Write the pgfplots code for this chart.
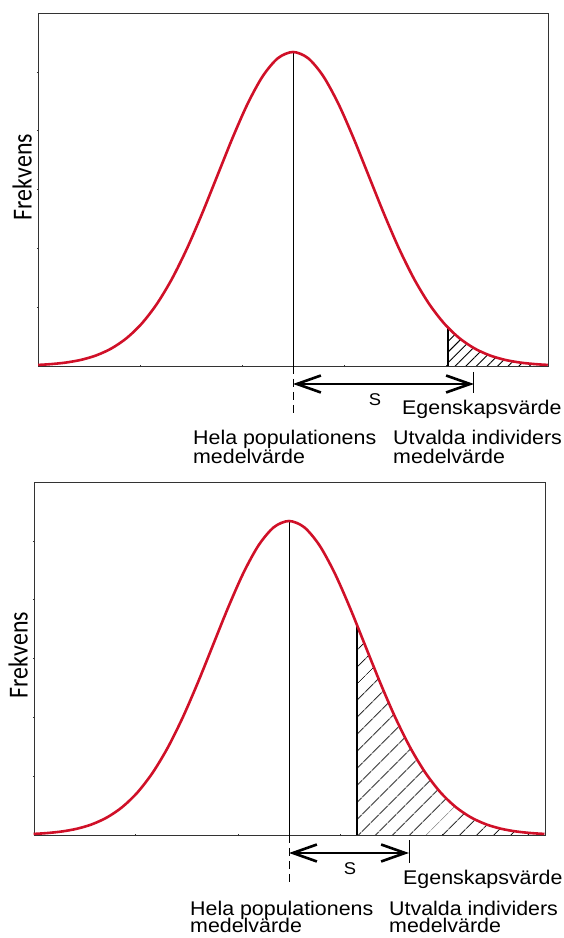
\documentclass[border=0pt]{standalone}
\usepackage{pgfplots}
\pgfplotsset{compat=1.18}
\usepackage{pgfplotstable}
\usepackage{fontspec}
\setmainfont{Liberation Sans}[FakeStretch=1.08]
\newfontfamily\frek{Carlito}[FakeStretch=0.87]
\usetikzlibrary{arrows.meta,patterns.meta}
\definecolor{curvered}{RGB}{208,16,40}
\newcommand\lab{\fontsize{19.8}{19.8}\selectfont}
\newcommand\frekfont{\frek\fontsize{27.5}{27.5}\selectfont}

\pgfplotstableread{
z f
-3.37 0.0034
-3.2 0.0060
-3.0 0.0111
-2.8 0.0198
-2.6 0.0340
-2.4 0.0561
-2.2 0.0889
-2.0 0.1353
-1.8 0.1979
-1.6 0.2780
-1.4 0.3753
-1.2 0.4868
-1.0 0.6065
-0.8 0.7261
-0.6 0.8353
-0.4 0.9231
-0.2 0.9802
0.0 1.0000
0.2 0.9802
0.4 0.9231
0.6 0.8353
0.8 0.7261
1.0 0.6065
1.2 0.4868
1.4 0.3753
1.6 0.2780
1.8 0.1979
2.0 0.1353
2.2 0.0889
2.4 0.0561
2.6 0.0340
2.8 0.0198
3.0 0.0111
3.2 0.0060
3.37 0.0034
}\curve

\pgfplotsset{panel/.style={
  scale only axis, height=353pt,
  ymin=0, ymax=1.1242,
  axis line style={black!80,line width=0.8pt},
  xtick={-2.024,-0.675,0.675,2.024},
  ytick={0.1874,0.3747,0.5621,0.7495,0.9368},
  xticklabels={}, yticklabels={},
  xtick pos=bottom, ytick pos=left,
  tick align=center, major tick length=2.5pt,
  tick style={black!80,line width=0.5pt},
  clip=false,
}}
\tikzset{sarrow/.style={line width=2.6pt, {Straight Barb[length=24pt,width=17pt]}-{Straight Barb[length=24pt,width=17pt]}}}

\begin{document}
\begin{tikzpicture}[x=1pt,y=1pt]
\useasboundingbox (0,0) rectangle (563,938);

% ---------- top panel ----------
\begin{axis}[panel, width=510pt, at={(38pt,572pt)}, anchor=south west,
  xmin=-3.373, xmax=3.373]
\addplot[draw=none, pattern={Lines[angle=45,distance=7.5pt,line width=0.9pt]}, smooth]
  coordinates {(2.05,0.1223) (2.2,0.0889) (2.4,0.0561) (2.6,0.0340) (2.8,0.0198) (3.0,0.0111) (3.2,0.0060) (3.37,0.0034)} \closedcycle;
\addplot[black, line width=1pt] coordinates {(0,0) (0,1)};
\addplot[black, line width=2.4pt] coordinates {(2.05,0) (2.05,0.1223)};
\addplot[black, line width=1pt, dash pattern=on 8pt off 5pt] coordinates {(0,0) (0,-0.1624)};
\addplot[black, line width=1pt] coordinates {(2.394,-0.0191) (2.394,-0.086)};
\addplot[curvered, line width=2.6pt, smooth] table[x=z,y=f] {\curve};
\draw[sarrow] (axis cs:0,-0.0573) -- (axis cs:2.394,-0.0573);
\node[font=\frekfont, rotate=90, anchor=center, inner sep=0] at (axis description cs:-0.031,0.535) {Frekvens};
\node[font=\fontsize{17}{17}\selectfont, inner sep=0] at (axis cs:1.085,-0.1083) {S};
\node[font=\lab, anchor=base west, inner sep=0] at (axis cs:1.442,-0.156) {Egenskapsvärde};
\node[font=\lab, anchor=base west, inner sep=0] at (axis cs:-1.323,-0.2516) {Hela populationens};
\node[font=\lab, anchor=base west, inner sep=0] at (axis cs:-1.323,-0.309) {medelvärde};
\node[font=\lab, anchor=base west, inner sep=0] at (axis cs:1.323,-0.2516) {Utvalda individers};
\node[font=\lab, anchor=base west, inner sep=0] at (axis cs:1.323,-0.309) {medelvärde};
\end{axis}

% ---------- bottom panel ----------
\begin{axis}[panel, width=511pt, at={(34pt,103pt)}, anchor=south west,
  xmin=-3.364, xmax=3.377]
\addplot[draw=none, pattern={Lines[angle=45,distance=13pt,line width=0.9pt]}, smooth]
  coordinates {(0.9,0.6670) (1.0,0.6065) (1.2,0.4868) (1.4,0.3753) (1.6,0.2780) (1.8,0.1979) (2.0,0.1353) (2.2,0.0889) (2.4,0.0561) (2.6,0.0340) (2.8,0.0198) (3.0,0.0111) (3.2,0.0060) (3.37,0.0034)} \closedcycle;
\addplot[black, line width=1pt] coordinates {(0,0) (0,1)};
\addplot[black, line width=2.4pt] coordinates {(0.9,0) (0.9,0.667)};
\addplot[black, line width=1pt, dash pattern=on 8pt off 5pt] coordinates {(0,0) (0,-0.159)};
\addplot[black, line width=1pt] coordinates {(1.583,-0.016) (1.583,-0.089)};
\addplot[curvered, line width=2.6pt, smooth] table[x=z,y=f] {\curve};
\draw[sarrow] (axis cs:0,-0.0573) -- (axis cs:1.583,-0.0573);
\node[font=\frekfont, rotate=90, anchor=center, inner sep=0] at (axis description cs:-0.031,0.51) {Frekvens};
\node[font=\fontsize{17}{17}\selectfont, inner sep=0] at (axis cs:0.805,-0.108) {S};
\node[font=\lab, anchor=base west, inner sep=0] at (axis cs:1.504,-0.159) {Egenskapsvärde};
\node[font=\lab, anchor=base west, inner sep=0] at (axis cs:-1.306,-0.2548) {Hela populationens};
\node[font=\lab, anchor=base west, inner sep=0] at (axis cs:-1.306,-0.312) {medelvärde};
\node[font=\lab, anchor=base west, inner sep=0] at (axis cs:1.319,-0.2548) {Utvalda individers};
\node[font=\lab, anchor=base west, inner sep=0] at (axis cs:1.319,-0.312) {medelvärde};
\end{axis}
\end{tikzpicture}
\end{document}
